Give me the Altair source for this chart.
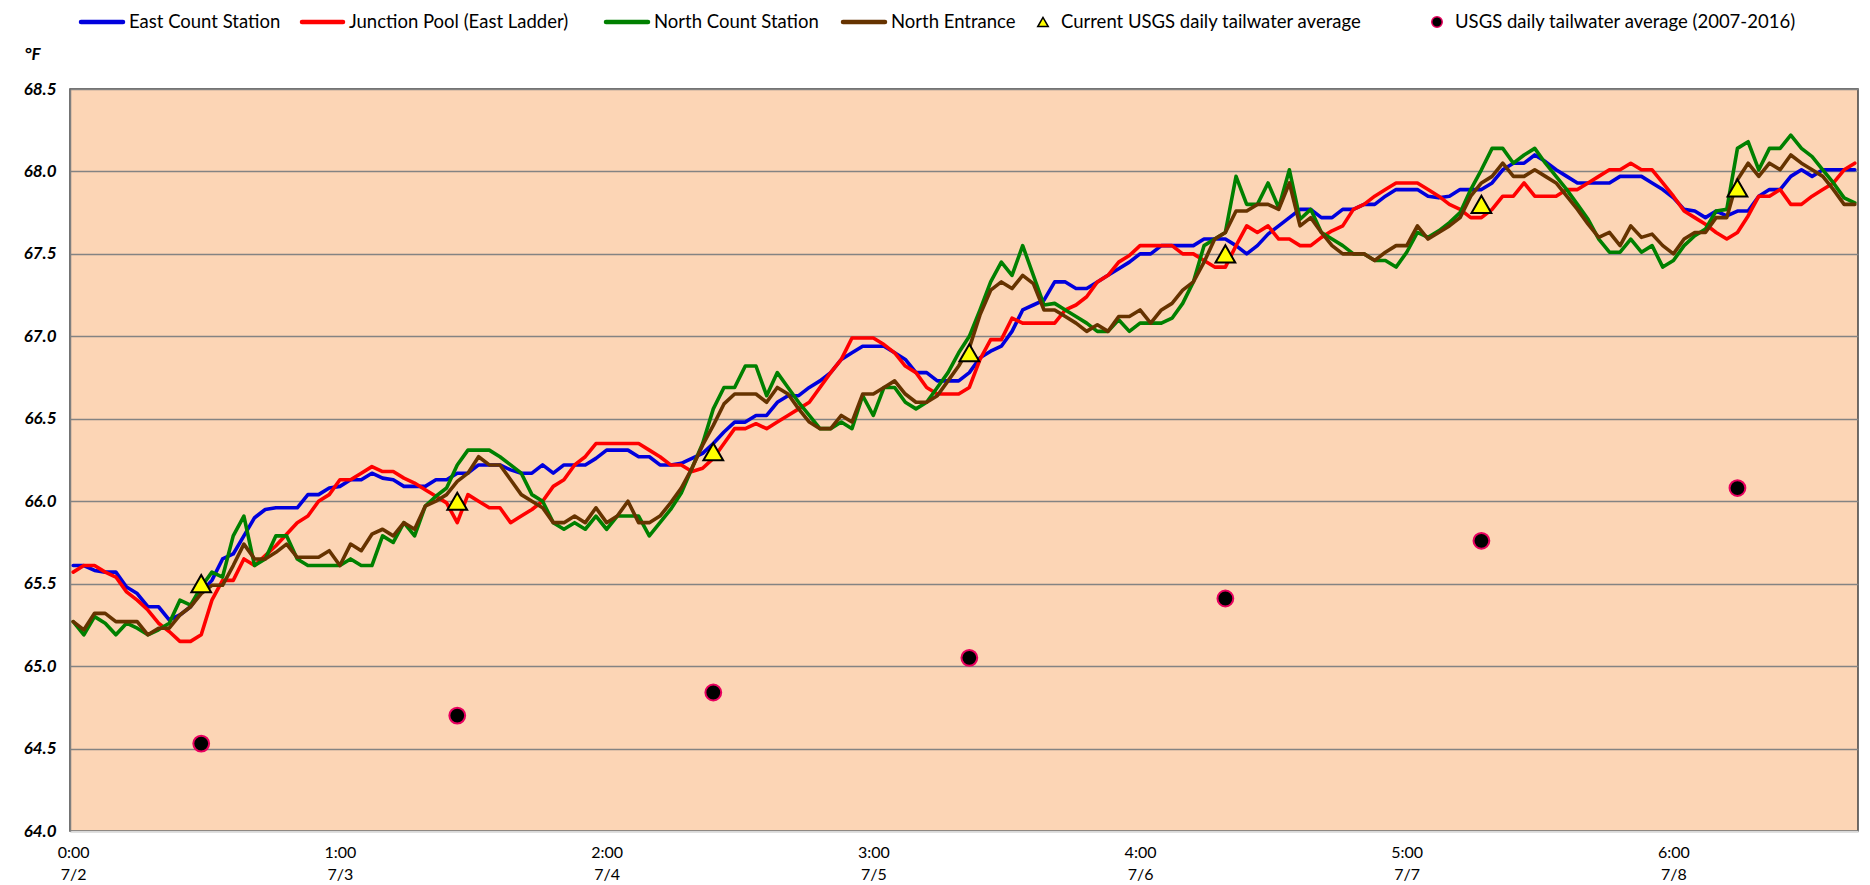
import altair as alt
import pandas as pd

# ---------------- data ----------------
HOURS = list(range(168))

EAST = [65.61, 65.61, 65.58, 65.57, 65.57, 65.48, 65.44, 65.36, 65.36, 65.28, 65.31, 65.36, 65.45, 65.52, 65.65, 65.68, 65.79, 65.90, 65.95, 65.96, 65.96, 65.96, 66.04, 66.04, 66.08, 66.09, 66.13, 66.13, 66.17,
        66.14, 66.13, 66.09, 66.09, 66.09, 66.13, 66.13, 66.17, 66.17, 66.22, 66.22, 66.22, 66.19, 66.17, 66.17, 66.22, 66.17, 66.22, 66.22, 66.22, 66.26, 66.31, 66.31, 66.31, 66.27, 66.27, 66.22, 66.22,
        66.23, 66.26, 66.29, 66.35, 66.42, 66.48, 66.48, 66.52, 66.52, 66.60, 66.64, 66.64, 66.69, 66.73, 66.78, 66.86, 66.90, 66.94, 66.94, 66.94, 66.90, 66.86, 66.78, 66.78, 66.73, 66.73, 66.73, 66.78,
        66.87, 66.91, 66.94, 67.03, 67.16, 67.19, 67.22, 67.33, 67.33, 67.29, 67.29, 67.33, 67.37, 67.41, 67.45, 67.50, 67.50, 67.55, 67.55, 67.55, 67.55, 67.59, 67.59, 67.59, 67.55, 67.50, 67.55, 67.62,
        67.67, 67.72, 67.77, 67.77, 67.72, 67.72, 67.77, 67.77, 67.80, 67.80, 67.85, 67.89, 67.89, 67.89, 67.85, 67.84, 67.85, 67.89, 67.89, 67.89, 67.93, 68.01, 68.05, 68.05, 68.10, 68.06, 68.01, 67.97,
        67.93, 67.93, 67.93, 67.93, 67.97, 67.97, 67.97, 67.93, 67.89, 67.84, 67.77, 67.76, 67.72, 67.76, 67.73, 67.76, 67.76, 67.85, 67.89, 67.89, 67.97, 68.01, 67.97, 68.01, 68.01, 68.01, 68.01]

JUNCTION = [65.57, 65.61, 65.61, 65.57, 65.54, 65.45, 65.40, 65.34, 65.26, 65.21, 65.15, 65.15, 65.19, 65.40, 65.52, 65.52, 65.65, 65.61, 65.67, 65.73, 65.80, 65.87, 65.91, 66.00, 66.04, 66.13, 66.13, 66.17, 66.21,
            66.18, 66.18, 66.14, 66.11, 66.07, 66.03, 65.99, 65.87, 66.04, 66.00, 65.96, 65.96, 65.87, 65.91, 65.95, 66.00, 66.09, 66.13, 66.22, 66.27, 66.35, 66.35, 66.35, 66.35, 66.35, 66.31, 66.27, 66.22,
            66.22, 66.18, 66.20, 66.26, 66.35, 66.44, 66.44, 66.47, 66.44, 66.48, 66.52, 66.56, 66.60, 66.69, 66.78, 66.86, 66.99, 66.99, 66.99, 66.95, 66.90, 66.82, 66.78, 66.69, 66.65, 66.65, 66.65, 66.69,
            66.86, 66.98, 66.98, 67.11, 67.08, 67.08, 67.08, 67.08, 67.16, 67.19, 67.24, 67.33, 67.37, 67.45, 67.49, 67.55, 67.55, 67.55, 67.55, 67.50, 67.50, 67.46, 67.42, 67.42, 67.55, 67.67, 67.63, 67.67,
            67.59, 67.59, 67.55, 67.55, 67.60, 67.64, 67.67, 67.77, 67.80, 67.85, 67.89, 67.93, 67.93, 67.93, 67.89, 67.85, 67.80, 67.77, 67.72, 67.72, 67.77, 67.85, 67.85, 67.93, 67.85, 67.85, 67.85, 67.89,
            67.89, 67.93, 67.97, 68.01, 68.01, 68.05, 68.01, 68.01, 67.93, 67.85, 67.76, 67.72, 67.68, 67.63, 67.59, 67.63, 67.73, 67.85, 67.85, 67.89, 67.80, 67.80, 67.85, 67.89, 67.93, 68.01, 68.05]

NORTH_CS = [65.27, 65.19, 65.30, 65.26, 65.19, 65.26, 65.23, 65.19, 65.22, 65.26, 65.40, 65.37, 65.48, 65.57, 65.54, 65.79, 65.91, 65.61, 65.65, 65.79, 65.79, 65.65, 65.61, 65.61, 65.61, 65.61, 65.65, 65.61, 65.61,
            65.79, 65.75, 65.87, 65.79, 65.97, 66.03, 66.08, 66.22, 66.31, 66.31, 66.31, 66.27, 66.22, 66.17, 66.04, 66.00, 65.87, 65.83, 65.87, 65.83, 65.91, 65.83, 65.91, 65.91, 65.91, 65.79, 65.87, 65.95,
            66.05, 66.20, 66.35, 66.56, 66.69, 66.69, 66.82, 66.82, 66.64, 66.78, 66.69, 66.60, 66.52, 66.44, 66.44, 66.48, 66.44, 66.64, 66.52, 66.69, 66.69, 66.60, 66.56, 66.60, 66.69, 66.78, 66.90, 67.00,
            67.16, 67.33, 67.45, 67.37, 67.55, 67.37, 67.19, 67.20, 67.16, 67.12, 67.08, 67.03, 67.03, 67.10, 67.03, 67.08, 67.08, 67.08, 67.11, 67.20, 67.33, 67.55, 67.59, 67.63, 67.97, 67.80, 67.80, 67.93,
            67.78, 68.01, 67.71, 67.77, 67.63, 67.59, 67.55, 67.50, 67.50, 67.46, 67.46, 67.42, 67.51, 67.63, 67.60, 67.64, 67.69, 67.75, 67.89, 68.01, 68.14, 68.14, 68.05, 68.10, 68.14, 68.05, 67.97, 67.89,
            67.80, 67.71, 67.59, 67.51, 67.51, 67.59, 67.51, 67.55, 67.42, 67.46, 67.55, 67.61, 67.65, 67.76, 67.77, 68.14, 68.18, 68.01, 68.14, 68.14, 68.22, 68.14, 68.09, 68.01, 67.93, 67.84, 67.81]

NORTH_ENT = [65.27, 65.22, 65.32, 65.32, 65.27, 65.27, 65.27, 65.19, 65.23, 65.23, 65.31, 65.36, 65.44, 65.49, 65.49, 65.61, 65.74, 65.65, 65.65, 65.69, 65.74, 65.66, 65.66, 65.66, 65.70, 65.61, 65.74, 65.70, 65.80,
             65.83, 65.79, 65.87, 65.83, 65.97, 66.00, 66.04, 66.12, 66.17, 66.27, 66.22, 66.22, 66.13, 66.04, 66.00, 65.96, 65.87, 65.87, 65.91, 65.87, 65.96, 65.87, 65.91, 66.00, 65.87, 65.87, 65.91, 65.99,
             66.08, 66.20, 66.34, 66.46, 66.59, 66.65, 66.65, 66.65, 66.60, 66.69, 66.65, 66.56, 66.48, 66.44, 66.44, 66.52, 66.48, 66.65, 66.65, 66.69, 66.73, 66.65, 66.60, 66.60, 66.64, 66.73, 66.82, 66.93,
             67.13, 67.28, 67.33, 67.29, 67.37, 67.32, 67.16, 67.16, 67.12, 67.08, 67.03, 67.07, 67.03, 67.12, 67.12, 67.16, 67.08, 67.16, 67.20, 67.28, 67.33, 67.45, 67.59, 67.63, 67.76, 67.76, 67.80, 67.80,
             67.77, 67.93, 67.67, 67.72, 67.63, 67.55, 67.50, 67.50, 67.50, 67.46, 67.51, 67.55, 67.55, 67.67, 67.59, 67.63, 67.67, 67.72, 67.85, 67.93, 67.97, 68.05, 67.97, 67.97, 68.01, 67.97, 67.93, 67.85,
             67.77, 67.68, 67.60, 67.63, 67.55, 67.67, 67.60, 67.62, 67.55, 67.50, 67.59, 67.63, 67.63, 67.72, 67.72, 67.95, 68.05, 67.97, 68.05, 68.01, 68.10, 68.05, 68.01, 67.97, 67.89, 67.80, 67.80]

AVG_HOURS = [12, 36, 60, 84, 108, 132, 156]
CURRENT_AVG = [65.5, 66.0, 66.3, 66.9, 67.5, 67.8, 67.9]
HIST_AVG = [64.53, 64.70, 64.84, 65.05, 65.41, 65.76, 66.08]

TICK_HOURS = [0, 25, 50, 75, 100, 125, 150]
TICK_TIMES = ["0:00", "1:00", "2:00", "3:00", "4:00", "5:00", "6:00"]
TICK_DATES = ["7/2", "7/3", "7/4", "7/5", "7/6", "7/7", "7/8"]
Y_TICKS = [64.0, 64.5, 65.0, 65.5, 66.0, 66.5, 67.0, 67.5, 68.0, 68.5]

LINE_NAMES = ["East Count Station", "Junction Pool (East Ladder)", "North Count Station", "North Entrance"]
MARKER_NAMES = ["Current USGS daily tailwater average", "USGS daily tailwater average (2007-2016)"]

# ---------------- styles / layout ----------------
LINE_COLORS = ["#0000DD", "#FF0000", "#008000", "#663300"]
PLOT_BG = "#FCD5B5"
FONT = "Lato"
TRI_FILL = "#FFFF00"
DOT_STROKE = "#E8005F"

W, H = 1788, 742
# legend layout (pixels relative to plot origin)
LEG_Y = -67
LEG_LINE_X0 = [11, 232, 536, 773]
LEG_LINE_X1 = [53, 273, 578, 815]
LEG_LINE_TX = [59, 279, 584, 821]
LEG_MARK_X = [973, 1367]
LEG_MARK_TX = [991, 1385]

x_scale = alt.Scale(domain=[-0.3, 167.3], nice=False, zero=False)
y_scale = alt.Scale(domain=[64.0, 68.5], nice=False, zero=False)

labels_js = "[" + ",".join(f"['{t}','{d}']" for t, d in zip(TICK_TIMES, TICK_DATES)) + "]"
x_axis = alt.Axis(values=TICK_HOURS, labelExpr=f"{labels_js}[round(datum.value/25)]",
                  grid=False, ticks=False, domainColor="#D9D9D9", domainWidth=1.5,
                  labelFont=FONT, labelFontSize=16, labelColor="black", labelPadding=13,
                  labelLineHeight=22, labelAngle=0, labelFlush=False, labelOverlap=False,
                  title=None)
y_axis = alt.Axis(values=Y_TICKS, format=".1f", grid=True, gridColor="#838383", gridWidth=1.3,
                  ticks=False, domainColor="#7F7F7F", domainWidth=1.5,
                  labelFont=FONT, labelFontSize=17, labelFontWeight="bold", labelFontStyle="italic",
                  labelColor="black", labelPadding=14, labelFlush=False, labelOverlap=False,
                  title="°F", titleAngle=0, titleX=-38, titleY=-35, titleAlign="center",
                  titleBaseline="middle", titleFont=FONT, titleFontSize=17, titleFontWeight="bold",
                  titleFontStyle="italic", titleColor="black")

layers = []
for i, (name, vals) in enumerate(zip(LINE_NAMES, [EAST, JUNCTION, NORTH_CS, NORTH_ENT])):
    df = pd.DataFrame({"hour": HOURS, "temp": vals, "series": name})
    layers.append(
        alt.Chart(df).mark_line(color=LINE_COLORS[i], strokeWidth=3.6, strokeJoin="round", strokeCap="round")
        .encode(x=alt.X("hour:Q", scale=x_scale, axis=x_axis if i == 0 else None),
                y=alt.Y("temp:Q", scale=y_scale, axis=y_axis if i == 0 else None))
    )

df_avg = pd.DataFrame({"hour": AVG_HOURS, "current": CURRENT_AVG, "hist": HIST_AVG})
layers.append(
    alt.Chart(df_avg).mark_point(shape="circle", filled=True, fill="black", stroke=DOT_STROKE,
                                 strokeWidth=2, size=250, opacity=1)
    .encode(x=alt.X("hour:Q", scale=x_scale, axis=None), y=alt.Y("hist:Q", scale=y_scale, axis=None))
)
layers.append(
    alt.Chart(df_avg).mark_point(shape="triangle-up", filled=True, fill=TRI_FILL, stroke="black",
                                 strokeWidth=2, size=390, opacity=1)
    .encode(x=alt.X("hour:Q", scale=x_scale, axis=None), y=alt.Y("current:Q", scale=y_scale, axis=None))
)

# ---------------- legend ----------------
leg_lines = pd.DataFrame({"name": LINE_NAMES, "x0": LEG_LINE_X0, "x1": LEG_LINE_X1, "tx": LEG_LINE_TX})
layers.append(
    alt.Chart(leg_lines).mark_rule(strokeWidth=4.5, strokeCap="round")
    .encode(x=alt.X("x0:Q", scale=None, axis=None), x2="x1:Q", y=alt.value(LEG_Y),
            color=alt.Color("name:N", scale=alt.Scale(domain=LINE_NAMES, range=LINE_COLORS), legend=None))
)
leg_marks = pd.DataFrame({"name": MARKER_NAMES, "mx": LEG_MARK_X, "tx": LEG_MARK_TX})
layers.append(
    alt.Chart(leg_marks).transform_filter(alt.datum.name == MARKER_NAMES[0])
    .mark_point(shape="triangle-up", filled=True, fill=TRI_FILL, stroke="black", strokeWidth=1.5, size=110, opacity=1)
    .encode(x=alt.X("mx:Q", scale=None, axis=None), y=alt.value(LEG_Y))
)
layers.append(
    alt.Chart(leg_marks).transform_filter(alt.datum.name == MARKER_NAMES[1])
    .mark_point(shape="circle", filled=True, fill="black", stroke=DOT_STROKE, strokeWidth=1.5, size=110, opacity=1)
    .encode(x=alt.X("mx:Q", scale=None, axis=None), y=alt.value(LEG_Y))
)
leg_text = pd.DataFrame({"name": LINE_NAMES + MARKER_NAMES, "tx": LEG_LINE_TX + LEG_MARK_TX})
layers.append(
    alt.Chart(leg_text).mark_text(align="left", baseline="middle", font=FONT, fontSize=18.5, color="black")
    .encode(x=alt.X("tx:Q", scale=None, axis=None), y=alt.value(LEG_Y), text="name:N")
)

chart = (
    alt.layer(*layers)
    .resolve_scale(x="independent", y="independent", color="independent")
    .properties(width=W, height=H,
                padding={"left": 62, "top": 81, "right": 4, "bottom": 54},
                autosize=alt.AutoSizeParams(type="none"),
                background="white")
    .configure_view(fill=PLOT_BG, stroke="#404040", strokeWidth=1.5)
)

chart.save("out.html", embed_options={"renderer": "svg", "actions": False})
